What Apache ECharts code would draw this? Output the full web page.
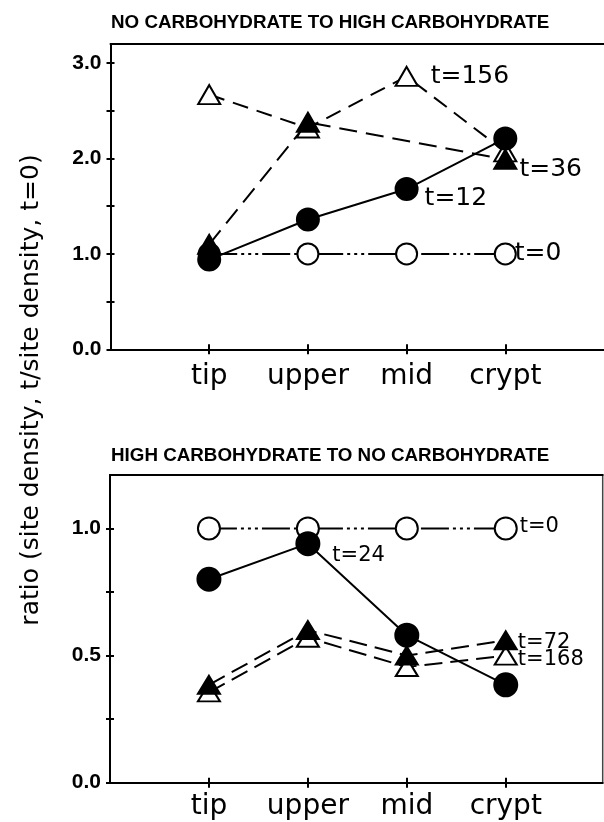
<!DOCTYPE html>
<html>
<head>
<meta charset="utf-8">
<script src="https://cdn.jsdelivr.net/npm/echarts@6/dist/echarts.min.js"></script>
<style>
  html, body { margin: 0; padding: 0; background: #fff; }
  #main { width: 604px; height: 822px; }
</style>
</head>
<body>
<div id="main"></div>
<script>
// sites along the villus
const categories = ['tip', 'upper', 'mid', 'crypt'];

// upper panel: no carbohydrate -> high carbohydrate
const topT0 = [1.0, 1.0, 1.0, 1.0];
const topT12 = [0.94, 1.36, 1.68, 2.21];
const topT36 = [1.1, 2.38, null, 1.99];
const topT156 = [2.67, 2.32, 2.86, 2.07];

// lower panel: high carbohydrate -> no carbohydrate
const botT0 = [1.0, 1.0, 1.0, 1.0];
const botT24 = [0.8, 0.94, 0.58, 0.385];
const botT72 = [0.385, 0.6, 0.5, 0.56];
const botT168 = [0.355, 0.57, 0.455, 0.5];

const topTicks = [0, 0.5, 1, 1.5, 2, 2.5, 3];
const topLabels = [0, 1, 2, 3];
const botTicks = [0, 0.25, 0.5, 0.75, 1];
const botLabels = [0, 0.5, 1];
const catPos = [1, 2, 3, 4];

const chart = echarts.init(document.getElementById('main'));

const openCircle = { symbol: 'circle', fill: '#fff' };
const fullCircle = { symbol: 'circle', fill: '#000' };
const openTri = { symbol: 'triangle', fill: '#fff' };
const fullTri = { symbol: 'triangle', fill: '#000' };

const dashDot = [28, 4, 3, 4, 3, 4, 3, 4];

// turn a value list into [x, y] points, with a label on one of them
function pts(vals, labelIdx, labelText, labelOpt) {
  return vals.map((v, i) => {
    const p = { value: [i + 1, v == null ? '-' : v] };
    if (i === labelIdx) {
      p.label = Object.assign({
        show: true,
        formatter: labelText,
        color: '#000',
        fontFamily: 'DejaVu Sans',
        position: 'right'
      }, labelOpt);
    }
    return p;
  });
}

function line(gi, vals, mark, size, dash, labelIdx, labelText, labelOpt) {
  return {
    type: 'line',
    xAxisIndex: gi * 3,
    yAxisIndex: gi * 2,
    data: pts(vals, labelIdx, labelText, labelOpt),
    symbol: mark.symbol,
    symbolSize: size,
    showAllSymbol: true,
    connectNulls: true,
    animation: false,
    silent: true,
    lineStyle: { color: '#000', width: 2, type: dash },
    itemStyle: { color: mark.fill, borderColor: '#000', borderWidth: 2, opacity: 1 },
    emphasis: { disabled: true }
  };
}

function xAxes(gi, max, labelMargin) {
  const base = {
    type: 'value',
    gridIndex: gi,
    min: 0,
    max: max,
    splitLine: { show: false }
  };
  return [
    Object.assign({}, base, {
      position: 'bottom',
      axisLine: { show: true, lineStyle: { color: '#000', width: 2 } },
      axisTick: { show: true, length: 5, lineStyle: { color: '#000', width: 2 }, customValues: catPos },
      axisLabel: {
        show: true,
        customValues: catPos,
        formatter: v => categories[v - 1],
        fontFamily: 'DejaVu Sans',
        fontSize: 28,
        color: '#000',
        margin: labelMargin
      }
    }),
    // second copy only for the inward half of the crossing ticks
    Object.assign({}, base, {
      position: 'bottom',
      axisLine: { show: false, onZero: false },
      axisTick: { show: true, inside: true, length: 5, lineStyle: { color: '#000', width: 2 }, customValues: catPos },
      axisLabel: { show: false }
    }),
    // frame line along the top of the panel
    Object.assign({}, base, {
      position: 'top',
      axisLine: { show: true, onZero: false, lineStyle: { color: '#000', width: 2 } },
      axisTick: { show: false },
      axisLabel: { show: false }
    })
  ];
}

function yAxes(gi, max, ticks, labels) {
  const base = {
    type: 'value',
    gridIndex: gi,
    min: 0,
    max: max,
    position: 'left',
    splitLine: { show: false }
  };
  return [
    Object.assign({}, base, {
      axisLine: { show: true, lineStyle: { color: '#000', width: 2 } },
      axisTick: { show: true, length: 4, lineStyle: { color: '#000', width: 2 }, customValues: ticks },
      axisLabel: {
        show: true,
        customValues: labels,
        formatter: v => v.toFixed(1),
        fontFamily: 'Liberation Sans',
        fontWeight: 'bold',
        fontSize: 21,
        color: '#000',
        margin: 9
      }
    }),
    Object.assign({}, base, {
      axisLine: { show: false, onZero: false },
      axisTick: { show: true, inside: true, length: 4, lineStyle: { color: '#000', width: 2 }, customValues: ticks },
      axisLabel: { show: false }
    })
  ];
}

const topLbl = { fontSize: 25 };
const botLbl = { fontSize: 21 };
const titleStyle = { fontFamily: 'Liberation Sans', fontSize: 18.8, fontWeight: 'bold', color: '#000' };

chart.setOption({
  backgroundColor: '#fff',
  animation: false,
  title: [
    { text: 'NO CARBOHYDRATE TO HIGH CARBOHYDRATE', left: 111, top: 13, padding: 0, textStyle: titleStyle },
    { text: 'HIGH CARBOHYDRATE TO NO CARBOHYDRATE', left: 111, top: 446, padding: 0, textStyle: titleStyle }
  ],
  grid: [
    { left: 110.5, top: 44, width: 494.5, height: 305.3, show: false },
    { left: 110, top: 475, width: 492.7, height: 307.7, show: true, borderColor: '#444', borderWidth: 1.5, backgroundColor: 'transparent' }
  ],
  xAxis: xAxes(0, 5, 13).concat(xAxes(1, 4.98, 10)),
  yAxis: yAxes(0, 3.2, topTicks, topLabels).concat(yAxes(1, 1.21, botTicks, botLabels)),
  graphic: [
    {
      type: 'text',
      x: 31, y: 390,
      rotation: Math.PI / 2,
      style: {
        text: 'ratio (site density, t/site density, t=0)',
        fill: '#000',
        font: '25px "DejaVu Sans"',
        align: 'center',
        verticalAlign: 'middle'
      }
    }
  ],
  series: [
    line(0, topT0, openCircle, 21, dashDot, 3, 't=0', Object.assign({ distance: -2 }, topLbl)),
    line(0, topT156, openTri, [22, 19], [16, 9], 2, 't=156', Object.assign({ distance: 12 }, topLbl)),
    line(0, topT36, fullTri, [22, 19], [18, 9], 3, 't=36', Object.assign({ distance: 2, offset: [0, 10] }, topLbl)),
    line(0, topT12, fullCircle, 22, 'solid', 2, 't=12', Object.assign({ distance: 6, offset: [0, 9] }, topLbl)),
    line(1, botT0, openCircle, 22, dashDot, 3, 't=0', Object.assign({ distance: 2, offset: [0, -2] }, botLbl)),
    line(1, botT168, openTri, [22, 18], [18, 8], 3, 't=168', Object.assign({ distance: 0, offset: [0, 4] }, botLbl)),
    line(1, botT72, fullTri, [22, 18], [18, 8], 3, 't=72', Object.assign({ distance: 0, offset: [0, 2] }, botLbl)),
    line(1, botT24, fullCircle, 23, 'solid', 1, 't=24', Object.assign({ distance: 12, offset: [0, 12] }, botLbl))
  ]
});
</script>
</body>
</html>
